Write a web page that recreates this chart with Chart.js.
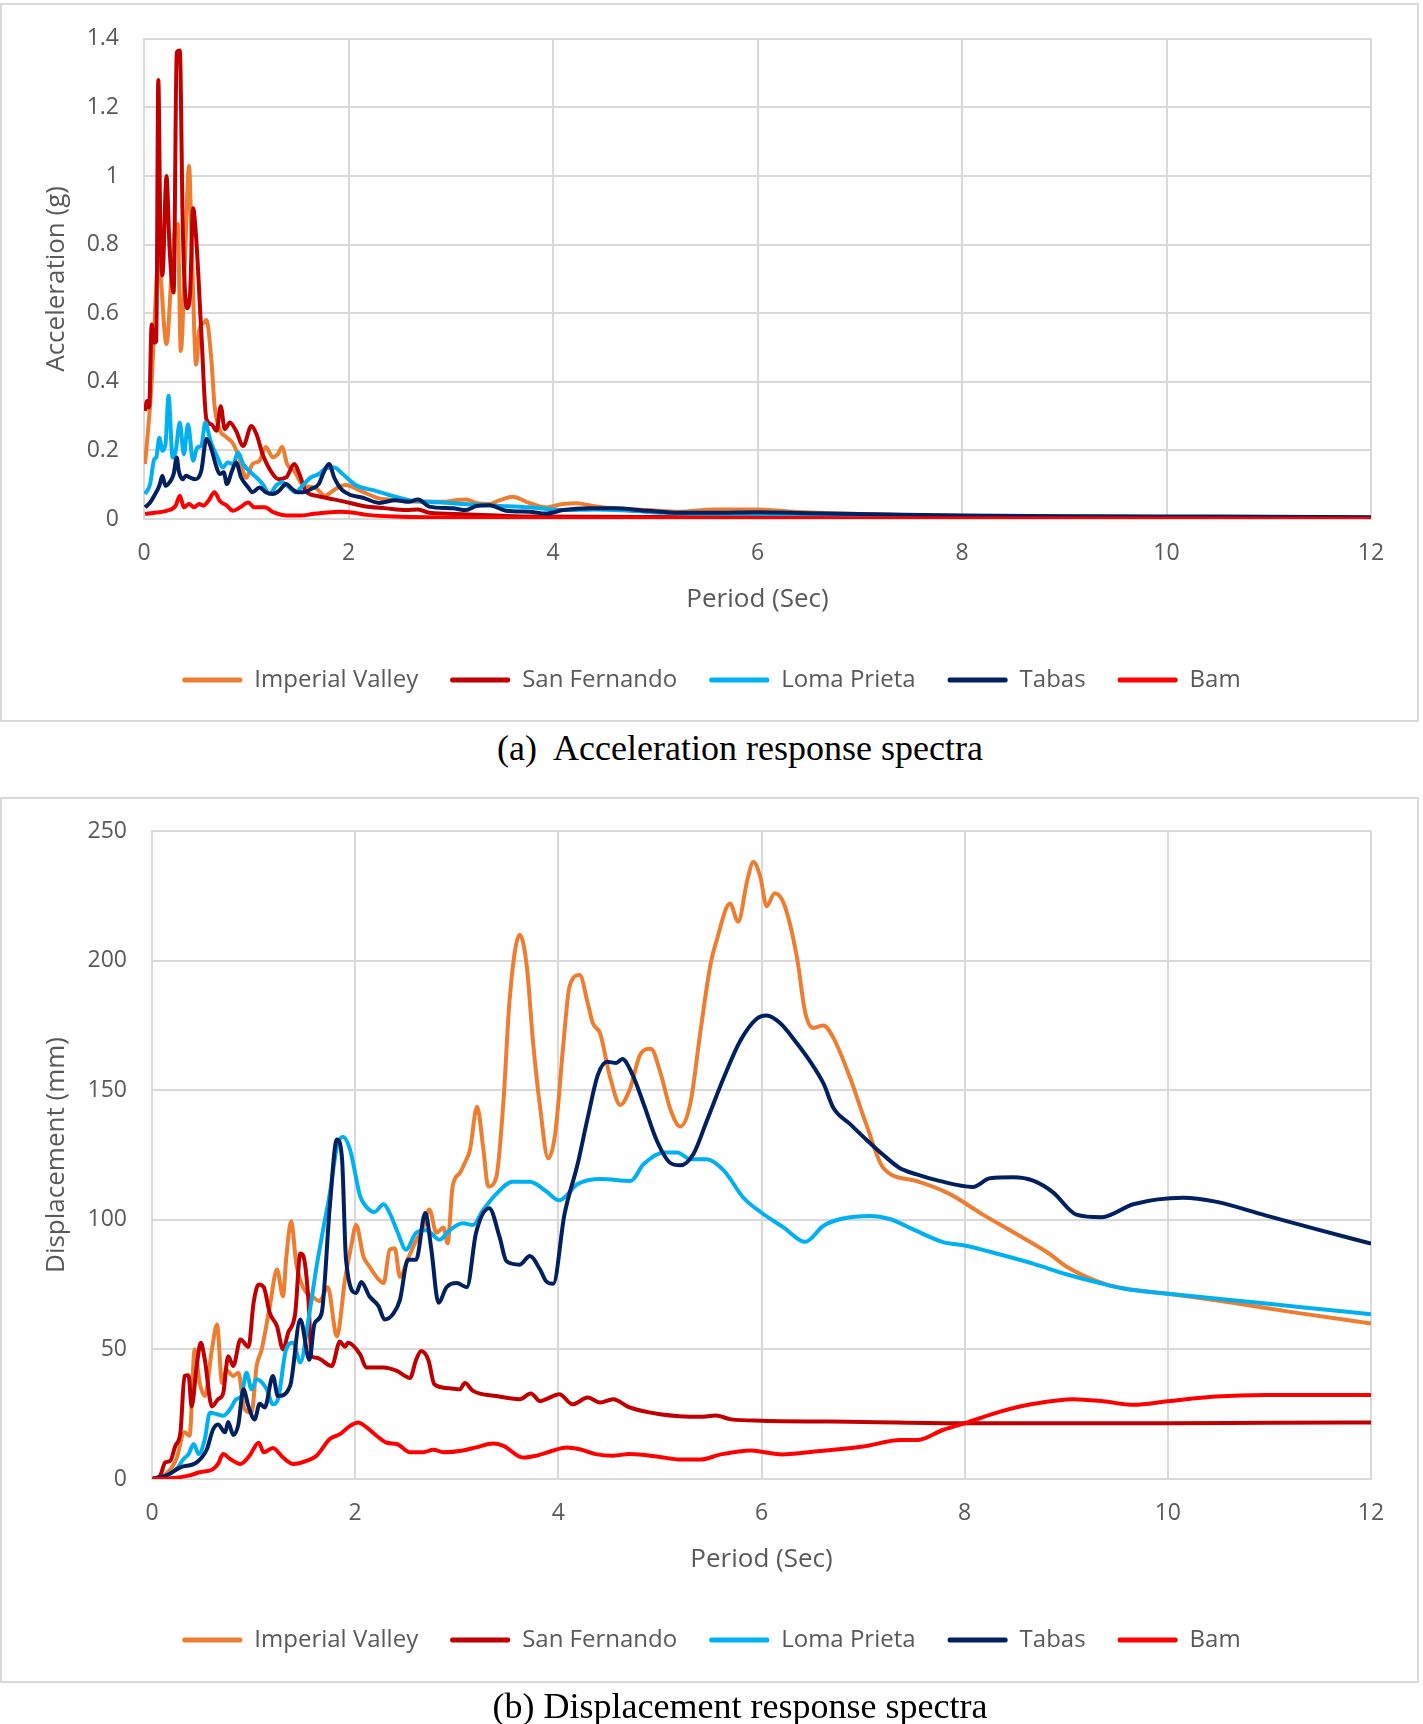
<!DOCTYPE html>
<html>
<head>
<meta charset="utf-8">
<script src="https://cdn.jsdelivr.net/npm/chart.js@4.4.1/dist/chart.umd.min.js"></script>
<style>
    body { margin: 0; background: #fff; width: 1423px; height: 1724px; position: relative; overflow: hidden; }
    .panel { position: absolute; left: 0; width: 1419px; box-sizing: border-box; border: 2px solid #d9d9d9; }
    canvas { position: absolute; left: 0; }
    .caption { position: absolute; left: 0; width: 1480px; text-align: center; font-family: "Liberation Serif", serif; font-size: 36px; line-height: 1; color: #000; }
</style>
</head>
<body>
<div class="panel" style="top:3px;height:719px"></div>
<div class="panel" style="top:797px;height:886px"></div>
<canvas id="accChart" style="top:0" width="1423" height="725"></canvas>
<canvas id="dispChart" style="top:790px" width="1423" height="900"></canvas>
<div class="caption" style="top:730px">(a)&nbsp; Acceleration response spectra</div>
<div class="caption" style="top:1688px">(b) Displacement response spectra</div>

<script>
const seriesNames = ['Imperial Valley', 'San Fernando', 'Loma Prieta', 'Tabas', 'Bam']
const seriesColors = ['#ED7D31', '#C00000', '#00B0F0', '#002060', '#FF0000']

// acceleration spectra: [period (s), Sa (g)]
const accImperialValley = [[0.01,0.16],[0.04,0.26],[0.075,0.40],[0.11,0.62],[0.14,0.75],[0.17,0.68],[0.20,0.55],[0.22,0.51],[0.27,0.72],[0.30,0.84],[0.33,0.86],[0.36,0.49],[0.40,0.75],[0.44,1.03],[0.47,0.76],[0.51,0.45],[0.54,0.55],[0.58,0.57],[0.61,0.58],[0.66,0.46],[0.69,0.33],[0.74,0.26],[0.80,0.24],[0.87,0.22],[0.93,0.18],[1.00,0.12],[1.06,0.16],[1.13,0.17],[1.19,0.21],[1.26,0.18],[1.31,0.19],[1.35,0.21],[1.40,0.16],[1.47,0.14],[1.55,0.10],[1.68,0.09],[1.77,0.068],[1.87,0.087],[1.97,0.099],[2.14,0.079],[2.30,0.060],[2.46,0.055],[2.73,0.050],[2.92,0.050],[3.05,0.055],[3.15,0.057],[3.25,0.047],[3.38,0.044],[3.48,0.055],[3.61,0.065],[3.74,0.050],[3.93,0.034],[4.10,0.044],[4.23,0.046],[4.39,0.038],[4.59,0.031],[4.92,0.026],[5.24,0.021],[5.57,0.028],[6.0,0.028],[6.3,0.022],[6.8,0.016],[7.5,0.011],[8.5,0.008],[10,0.006],[12,0.004]]
const accSanFernando = [[0.01,0.315],[0.03,0.344],[0.05,0.325],[0.075,0.567],[0.10,0.514],[0.12,0.518],[0.14,1.28],[0.16,0.84],[0.18,0.71],[0.22,1.00],[0.25,0.79],[0.29,0.66],[0.32,1.36],[0.35,1.366],[0.38,0.84],[0.42,0.615],[0.45,0.654],[0.48,0.906],[0.51,0.82],[0.56,0.547],[0.61,0.291],[0.66,0.276],[0.71,0.257],[0.75,0.329],[0.79,0.262],[0.84,0.281],[0.90,0.257],[0.97,0.213],[1.05,0.271],[1.10,0.247],[1.16,0.189],[1.26,0.131],[1.32,0.116],[1.39,0.121],[1.47,0.160],[1.52,0.131],[1.58,0.082],[1.68,0.068],[1.81,0.060],[1.97,0.050],[2.14,0.038],[2.37,0.031],[2.56,0.026],[2.68,0.028],[2.79,0.018],[3.12,0.014],[3.77,0.007],[6.0,0.005],[8,0.004],[12,0.003]]
const accLomaPrieta = [[0.01,0.073],[0.06,0.102],[0.10,0.174],[0.12,0.179],[0.15,0.237],[0.18,0.199],[0.21,0.218],[0.24,0.359],[0.28,0.179],[0.31,0.199],[0.35,0.281],[0.39,0.189],[0.43,0.276],[0.48,0.170],[0.52,0.208],[0.56,0.213],[0.60,0.281],[0.65,0.228],[0.72,0.179],[0.77,0.150],[0.82,0.165],[0.87,0.160],[0.92,0.194],[0.97,0.160],[1.03,0.140],[1.10,0.121],[1.16,0.102],[1.23,0.073],[1.29,0.097],[1.35,0.107],[1.42,0.092],[1.48,0.078],[1.55,0.097],[1.63,0.121],[1.71,0.131],[1.78,0.148],[1.86,0.150],[1.94,0.132],[2.07,0.099],[2.24,0.084],[2.40,0.070],[2.59,0.055],[2.79,0.050],[3.12,0.044],[3.44,0.039],[3.77,0.034],[4.10,0.026],[4.42,0.028],[4.75,0.024],[5.08,0.018],[5.41,0.016],[6.0,0.015],[7,0.011],[8,0.008],[10,0.006],[12,0.004]]
const accTabas = [[0.01,0.034],[0.06,0.048],[0.10,0.068],[0.15,0.097],[0.18,0.126],[0.21,0.097],[0.25,0.107],[0.29,0.131],[0.32,0.179],[0.34,0.140],[0.38,0.116],[0.41,0.126],[0.45,0.121],[0.50,0.116],[0.56,0.140],[0.61,0.233],[0.65,0.213],[0.70,0.160],[0.74,0.131],[0.78,0.136],[0.81,0.102],[0.86,0.140],[0.90,0.165],[0.95,0.121],[1.02,0.092],[1.06,0.078],[1.13,0.092],[1.19,0.078],[1.26,0.073],[1.32,0.082],[1.39,0.102],[1.45,0.087],[1.50,0.078],[1.56,0.078],[1.63,0.087],[1.71,0.102],[1.75,0.131],[1.81,0.160],[1.86,0.121],[1.90,0.099],[1.94,0.084],[2.02,0.070],[2.14,0.062],[2.30,0.047],[2.46,0.055],[2.59,0.050],[2.68,0.057],[2.79,0.036],[3.02,0.031],[3.15,0.026],[3.25,0.038],[3.38,0.040],[3.54,0.024],[3.77,0.021],[3.93,0.016],[4.10,0.026],[4.36,0.031],[4.59,0.031],[4.92,0.024],[5.24,0.018],[5.57,0.018],[6.0,0.020],[6.5,0.017],[7.3,0.013],[8,0.010],[9,0.008],[10.5,0.007],[12,0.005]]
const accBam = [[0.01,0.015],[0.12,0.019],[0.22,0.024],[0.31,0.039],[0.35,0.068],[0.39,0.034],[0.44,0.044],[0.49,0.034],[0.54,0.044],[0.58,0.039],[0.63,0.053],[0.69,0.078],[0.74,0.053],[0.81,0.039],[0.87,0.024],[0.94,0.034],[1.02,0.048],[1.08,0.034],[1.18,0.034],[1.27,0.019],[1.40,0.010],[1.53,0.010],[1.66,0.015],[1.79,0.019],[1.92,0.021],[2.05,0.018],[2.18,0.012],[2.46,0.007],[3.12,0.004],[6,0.002],[12,0.001]]

// displacement spectra: [period (s), Sd (mm)]
const dispImperialValley = [[0,0],[0.14,2],[0.24,7.7],[0.32,18],[0.37,16.7],[0.42,50],[0.47,37],[0.52,32],[0.59,50],[0.64,59.6],[0.69,37],[0.73,42],[0.80,39.7],[0.85,41],[0.91,27],[0.98,25.6],[1.03,43.6],[1.08,50],[1.16,66.7],[1.23,80.8],[1.29,70.5],[1.32,84.6],[1.37,99.4],[1.42,83],[1.47,75.6],[1.52,71.8],[1.59,70],[1.65,68.6],[1.73,74],[1.82,55],[1.90,77],[1.96,89.7],[2.01,98],[2.08,86],[2.14,82],[2.23,77],[2.28,75.6],[2.34,88.5],[2.39,89],[2.44,78],[2.52,85],[2.60,92],[2.67,97],[2.73,104],[2.80,95],[2.87,97],[2.91,91],[2.96,113],[3.03,118],[3.08,122],[3.13,127],[3.20,143.6],[3.26,128],[3.31,112.8],[3.39,116.6],[3.46,146],[3.52,184.8],[3.62,210],[3.69,197.6],[3.75,169],[3.82,143.6],[3.90,123.7],[3.97,133.5],[4.05,168],[4.11,190],[4.21,194.4],[4.29,183.5],[4.34,175.8],[4.41,172],[4.51,155],[4.61,144.3],[4.70,150],[4.81,164],[4.91,166],[5.01,156],[5.10,143],[5.20,136],[5.30,145],[5.40,173],[5.50,199],[5.56,208],[5.69,222],[5.77,215],[5.86,231],[5.92,238],[5.99,232],[6.05,221],[6.13,226],[6.22,222],[6.35,201],[6.43,180],[6.51,174],[6.61,175],[6.71,170],[6.87,155],[7.03,137],[7.20,120],[7.52,115],[7.85,110],[8.18,102],[8.51,94.5],[8.83,87],[9.0,82],[9.40,75],[9.66,73],[10,71.5],[10.64,68],[11.29,64],[12,60]]
const dispSanFernando = [[0,0],[0.08,1.3],[0.13,6.4],[0.18,7],[0.23,12.8],[0.28,18],[0.32,39.7],[0.36,40],[0.39,28],[0.44,43.6],[0.48,52.6],[0.52,46],[0.59,28],[0.65,30.8],[0.70,33],[0.75,47.4],[0.80,43.6],[0.87,53.8],[0.95,51],[1.00,68],[1.05,75],[1.10,74],[1.16,64],[1.23,59],[1.29,50],[1.34,56.4],[1.41,64],[1.46,87],[1.49,86],[1.54,69],[1.57,47.4],[1.62,46.8],[1.77,43.6],[1.85,53],[1.90,51],[1.93,52.6],[2.05,48],[2.11,43],[2.28,43],[2.41,41.7],[2.54,39],[2.60,46],[2.65,49.4],[2.72,46],[2.78,36.5],[2.93,35],[3.03,34.6],[3.08,37],[3.16,34],[3.39,32],[3.62,30.8],[3.73,33],[3.82,30],[3.88,30.8],[4.01,32.7],[4.14,28.8],[4.29,31.4],[4.41,29.5],[4.54,30.8],[4.70,27.6],[5.0,25],[5.4,24],[5.55,24.5],[5.7,23],[6.0,22.5],[7.0,22],[8.0,21.5],[9,21.5],[10,21.5],[11,21.7],[12,21.8]]
const dispLomaPrieta = [[0,0],[0.14,1.3],[0.24,3.8],[0.31,7.7],[0.36,9.6],[0.41,13.5],[0.46,9.6],[0.52,15.4],[0.57,25.6],[0.64,25],[0.70,24.4],[0.77,27],[0.83,30.8],[0.88,32],[0.93,41],[0.98,34.6],[1.03,38.5],[1.13,34.6],[1.19,28.8],[1.24,30.8],[1.32,50],[1.39,52.6],[1.46,45],[1.54,61.5],[1.62,82],[1.69,97.4],[1.75,110],[1.82,128],[1.88,132],[1.95,127],[2.05,109],[2.11,105],[2.19,103],[2.28,106],[2.34,102.6],[2.42,95],[2.50,88.5],[2.60,95],[2.70,96],[2.83,92.3],[2.93,96],[3.06,98.7],[3.16,98],[3.26,103.8],[3.39,110],[3.55,114.7],[3.72,114.7],[3.88,111],[4.01,107.5],[4.19,113.8],[4.42,115.7],[4.71,115],[4.84,121.5],[5.04,126],[5.17,126],[5.30,123.4],[5.46,123.4],[5.63,119],[5.82,108.6],[5.99,103],[6.22,97],[6.43,91.5],[6.61,97.7],[6.80,100.5],[7.07,101.5],[7.26,100.3],[7.52,95.8],[7.78,91.5],[8.01,90],[8.34,86.7],[8.68,83],[9.0,79],[9.33,75.6],[9.56,73.5],[10,71.5],[10.64,69],[11.29,66.4],[12,63.6]]
const dispTabas = [[0,0],[0.14,1.3],[0.28,4.5],[0.44,6.4],[0.54,11.5],[0.60,19],[0.65,21],[0.72,18],[0.75,22],[0.80,17],[0.85,21],[0.90,34.6],[0.95,28],[1.01,23],[1.06,29],[1.11,27.6],[1.19,39.7],[1.24,32],[1.36,36],[1.46,61.5],[1.55,46],[1.60,60],[1.67,64],[1.75,105],[1.82,131],[1.87,124],[1.91,84.6],[2.01,71.8],[2.06,76],[2.14,70.5],[2.23,66.7],[2.29,61.5],[2.37,63.5],[2.44,69],[2.52,84.6],[2.60,84.6],[2.69,102.6],[2.75,88.5],[2.82,68],[2.90,74],[3.00,75.6],[3.10,74],[3.19,95],[3.32,104.5],[3.42,93.6],[3.49,84],[3.62,82.7],[3.72,86],[3.82,80.8],[3.88,76.3],[3.95,75.3],[4.06,102],[4.19,121.5],[4.29,139.5],[4.39,156],[4.48,161],[4.57,160.5],[4.63,162],[4.73,156],[4.84,144.7],[4.97,130.5],[5.10,122],[5.20,121],[5.33,125.4],[5.46,138],[5.63,155],[5.79,169],[5.95,177.5],[6.05,178.8],[6.18,176],[6.35,168],[6.48,161],[6.61,152.6],[6.71,143],[6.87,137],[7.03,131],[7.20,125],[7.36,120],[7.52,117.6],[7.75,115],[8.08,112.7],[8.25,116],[8.48,116.4],[8.68,115],[8.87,110.6],[9.10,102],[9.35,101],[9.66,106],[10.15,108.5],[10.47,107],[10.96,101.7],[11.45,96.5],[12,90.8]]
const dispBam = [[0,0],[0.18,0.3],[0.36,1.3],[0.47,2.6],[0.60,3.8],[0.65,5.8],[0.70,9.6],[0.77,7.7],[0.87,5.8],[0.96,9],[1.05,14],[1.10,10.3],[1.19,12],[1.29,8.3],[1.39,5.8],[1.52,7],[1.62,9],[1.75,15.4],[1.85,17.3],[1.95,20.5],[2.03,21.8],[2.11,20],[2.21,16.7],[2.31,14],[2.41,13.5],[2.54,10.3],[2.67,10.3],[2.77,11.3],[2.87,10.3],[3.06,11],[3.19,12.2],[3.36,13.7],[3.46,12.8],[3.65,8.3],[3.78,9],[3.95,11],[4.08,12.2],[4.21,11.5],[4.37,9.6],[4.54,9],[4.70,9.6],[5.0,8.5],[5.2,7.5],[5.4,7.5],[5.6,9.5],[5.9,11],[6.0,10.5],[6.2,9.5],[6.5,10.5],[7.0,12.5],[7.37,15],[7.53,15],[7.79,19],[8.0,21.5],[8.35,26],[8.68,29],[9.07,30.8],[9.36,30],[9.66,28.6],[10,30],[10.47,31.8],[10.96,32.4],[12,32.4]]

const textColor = '#595959'
const gridColor = '#d9d9d9'
Chart.defaults.font.family = "'Open Sans', sans-serif"

function makeChart(id, config) {

    const datasets = seriesNames.map((name, i) => ({
        label: name,
        data: config.series[i].map(p => ({ x: p[0], y: p[1] })),
        borderColor: seriesColors[i],
        backgroundColor: seriesColors[i],
        borderWidth: 4,
        pointRadius: 0,
        cubicInterpolationMode: 'monotone',
        // later series are drawn on top, like the spreadsheet
        order: seriesNames.length - i
    }))

    return new Chart(document.getElementById(id), {
        type: 'line',
        data: { datasets },
        options: {
            responsive: false,
            animation: false,
            devicePixelRatio: 1,
            layout: { padding: config.padding },
            plugins: {
                tooltip: { enabled: false },
                legend: {
                    position: 'bottom',
                    labels: {
                        color: textColor,
                        font: { size: 24 },
                        boxWidth: 60,
                        boxHeight: 5,
                        padding: 32,
                        useBorderRadius: true,
                        borderRadius: 2,
                        sort: (a, b) => a.datasetIndex - b.datasetIndex,
                        generateLabels: chart => Chart.defaults.plugins.legend.labels.generateLabels(chart)
                            .map(item => Object.assign(item, { lineWidth: 0 }))
                    }
                }
            },
            scales: {
                x: {
                    type: 'linear',
                    min: 0,
                    max: 12,
                    grid: { color: gridColor, lineWidth: 2, drawTicks: false },
                    border: { color: gridColor, width: 2 },
                    ticks: { stepSize: 2, padding: 21, maxRotation: 0, color: textColor, font: { size: 23 } },
                    title: { display: true, text: 'Period (Sec)', color: textColor, font: { size: 26 }, padding: { top: 0, bottom: 21 } },
                    afterFit: scale => { scale.height = 117 }
                },
                y: {
                    min: 0,
                    max: config.yMax,
                    grid: { color: gridColor, lineWidth: 2, drawTicks: false },
                    border: { color: gridColor, width: 2 },
                    ticks: {
                        stepSize: config.yStep,
                        padding: 25,
                        color: textColor,
                        font: { size: 23 },
                        callback: v => String(+v.toFixed(2))
                    },
                    title: { display: true, text: config.yTitle, color: textColor, font: { size: 26 }, padding: { top: 41, bottom: 0 } },
                    afterFit: scale => { scale.width = config.yWidth }
                },
                // empty right margin so the legend stays centred on the whole panel
                yRight: {
                    position: 'right',
                    grid: { display: false },
                    border: { display: false },
                    ticks: { display: false },
                    afterFit: scale => { scale.width = 52 }
                }
            }
        }
    })
}

makeChart('accChart', {
    series: [accImperialValley, accSanFernando, accLomaPrieta, accTabas, accBam],
    yMax: 1.4,
    yStep: 0.2,
    yTitle: 'Acceleration (g)',
    yWidth: 144,
    padding: { top: 37, right: 0, bottom: 23, left: 0 }
})

makeChart('dispChart', {
    series: [dispImperialValley, dispSanFernando, dispLomaPrieta, dispTabas, dispBam],
    yMax: 250,
    yStep: 50,
    yTitle: 'Displacement (mm)',
    yWidth: 152,
    padding: { top: 41, right: 0, bottom: 28, left: 0 }
})
</script>
</body>
</html>
